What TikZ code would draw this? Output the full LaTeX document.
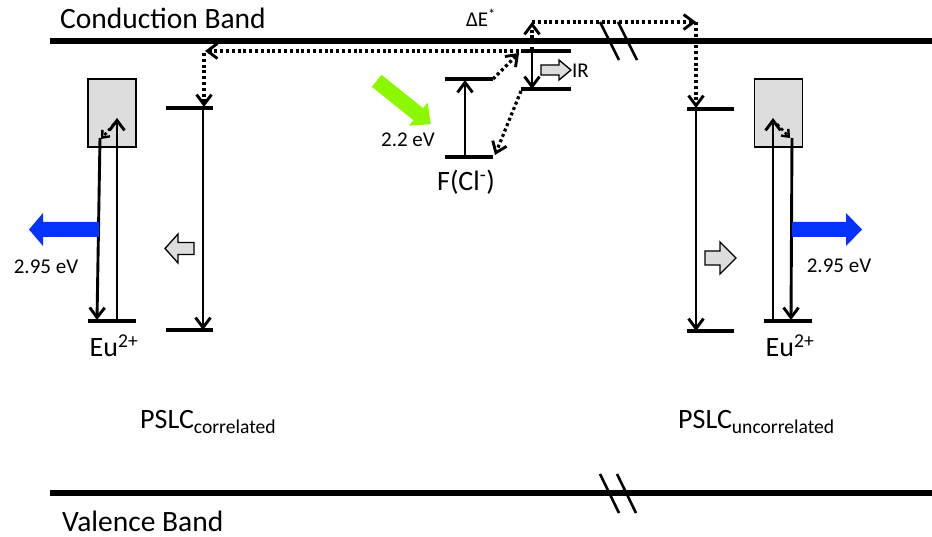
\documentclass[tikz,border=0pt]{standalone}
\usepackage{fontspec}
\setmainfont{Carlito}
\usetikzlibrary{arrows.meta}
\definecolor{boxgray}{HTML}{DDDDDD}
\definecolor{emitblue}{HTML}{0433FF}
\definecolor{stimgreen}{HTML}{8CF800}
\tikzset{
  band/.style={line width=5.5pt},
  brk/.style={line width=2.6pt},
  lvl/.style={line width=3.2pt},
  tip/.style={-{Straight Barb[length=10pt,width=15pt,line width=2.9pt]}},
  tr/.style={line width=2.9pt, tip},
  hop/.style={line width=3.2pt, dash pattern=on 3pt off 2.8pt, tip},
  eubox/.style={draw, fill=boxgray, line width=1.4pt, minimum width=48pt, minimum height=68pt, inner sep=0pt},
  hollow/.style={draw, fill=boxgray, line width=1.3pt, line join=miter},
  bigtxt/.style={font=\fontsize{28}{30}\selectfont, inner sep=0pt},
  bandtxt/.style={font=\fontsize{29.5}{31}\selectfont, inner sep=0pt},
  smalltxt/.style={font=\fontsize{21}{23}\selectfont, inner sep=0pt},
}
\begin{document}
\begin{tikzpicture}[x=1pt,y=-1pt]
\useasboundingbox (0,0) rectangle (932,537);

% bands
\draw[band] (50,41) -- (932,41);
\draw[band] (50,493) -- (932,493);
\draw[brk] (600,22) -- (619,60);
\draw[brk] (618,22) -- (637,60);
\draw[brk] (600,474) -- (619,513);
\draw[brk] (617,474) -- (636,513);
\node[bandtxt, anchor=west] (cbtxt) at (60,18) {Conduction Band};
\node[bandtxt, anchor=west] (vbtxt) at (62,521) {Valence Band};

% ---------- F centre ----------
\coordinate (Fg1) at (445,157); \coordinate (Fg2) at (493,157);
\coordinate (Fe1) at (445,79);  \coordinate (Fe2) at (493,79);
\coordinate (Ru1) at (521,51);  \coordinate (Ru2) at (571,51);
\coordinate (Rl1) at (521,89);  \coordinate (Rl2) at (571,89);
\draw[lvl] (Fg1) -- (Fg2);
\draw[lvl] (Fe1) -- (Fe2);
\draw[lvl] (Ru1) -- (Ru2);
\draw[lvl] (Rl1) -- (Rl2);
\coordinate (Fup0) at (465,157); \coordinate (Fup1) at (465,80);
\draw[tr] (Fup0) -- (Fup1);
\coordinate (Rd0) at (532,51); \coordinate (Rd1) at (532,89);
\draw[tr] (Rd0) -- (Rd1);
\coordinate (Rdt) at (519,53);
\draw[hop] (Fe2) -- (Rdt);
\coordinate (Rls) at (521,91); \coordinate (Fgt) at (495,155);
\draw[hop] (Rls) -- (Fgt);
\coordinate (Hup) at (532,22);
\draw[hop] (532,50) -- (Hup);
\coordinate (HR) at (696,22);
\draw[hop] (Hup) -- (HR);
\coordinate (TRt) at (696,108);
\draw[hop] (HR) -- (TRt);
\coordinate (HL) at (205,51);
\draw[hop] (519,51) -- (HL);
\coordinate (TLt) at (204,107);
\draw[hop] (204,53) -- (TLt);

% IR arrow
\draw[hollow] (541,65) -- (559,65) -- (559,60) -- (571,70) -- (559,80) -- (559,75) -- (541,75) -- cycle;
\node[smalltxt, anchor=west] (irtxt) at (572,71) {IR};

% green stimulation arrow
\fill[stimgreen] (371.9,86.8) -- (381.5,74.8) -- (423.1,108.2) -- (427.6,102.7) -- (430.8,124.2) -- (409,125.7) -- (413.5,120.2) -- cycle;
\node[smalltxt] (eg) at (408,140) {2.2 eV};
\node[bigtxt] (ftxt) at (466,182) {F(Cl\textsuperscript{-})};
\node[smalltxt] (dEtxt) at (481,18) {ΔE\textsuperscript{*}};

% ---------- left (correlated) ----------
\node[eubox] (boxL) at (112,113) {};
\coordinate (EuL1) at (88,321); \coordinate (EuL2) at (136,321);
\draw[lvl] (EuL1) -- (EuL2);
\draw[tr] (117,321) -- (117,118);
\draw[hop, line width=2.6pt, -{Straight Barb[length=6pt,width=10pt,line width=2.4pt]}] (114,124) -- (101,139);
\draw[tr] (100,138) -- (97,320);
\fill[emitblue] (99,222) -- (43,222) -- (43,213) -- (29,229.5) -- (43,246) -- (43,237) -- (99,237) -- cycle;
\node[smalltxt] (eL) at (46,267) {2.95 eV};
\node[bigtxt] (euL) at (114,346) {Eu\textsuperscript{2+}};
\coordinate (TL1) at (166,108); \coordinate (TL2) at (213,108);
\coordinate (BL1) at (166,330); \coordinate (BL2) at (213,330);
\draw[lvl] (TL1) -- (TL2);
\draw[lvl] (BL1) -- (BL2);
\draw[tr] (203,108) -- (203,330);
\draw[hollow] (194,242.5) -- (178,242.5) -- (178,234) -- (165,248.5) -- (178,263) -- (178,254.5) -- (194,254.5) -- cycle;
\node[bigtxt, anchor=west] (pslcL) at (140,422) {PSLC\textsubscript{correlated}};

% ---------- right (uncorrelated) ----------
\coordinate (TR1) at (687,109); \coordinate (TR2) at (734,109);
\coordinate (BR1) at (687,331); \coordinate (BR2) at (734,331);
\draw[lvl] (TR1) -- (TR2);
\draw[lvl] (BR1) -- (BR2);
\draw[tr] (696,109) -- (696,331);
\draw[hollow] (705,251) -- (720,251) -- (720,242) -- (736,258) -- (720,274) -- (720,265) -- (705,265) -- cycle;
\node[eubox] (boxR) at (778.5,113) {};
\coordinate (EuR1) at (764,321); \coordinate (EuR2) at (812,321);
\draw[lvl] (EuR1) -- (EuR2);
\draw[tr] (773,321) -- (773,118);
\draw[hop, line width=2.6pt, -{Straight Barb[length=6pt,width=10pt,line width=2.4pt]}] (777,124) -- (790,138);
\draw[tr] (792,138) -- (791,320);
\fill[emitblue] (792,222) -- (846,222) -- (846,213) -- (862,229.5) -- (846,246) -- (846,237) -- (792,237) -- cycle;
\node[smalltxt] (eR) at (839,266) {2.95 eV};
\node[bigtxt] (euR) at (790,346) {Eu\textsuperscript{2+}};
\node[bigtxt, anchor=west] (pslcR) at (678,422) {PSLC\textsubscript{uncorrelated}};
\end{tikzpicture}
\end{document}
